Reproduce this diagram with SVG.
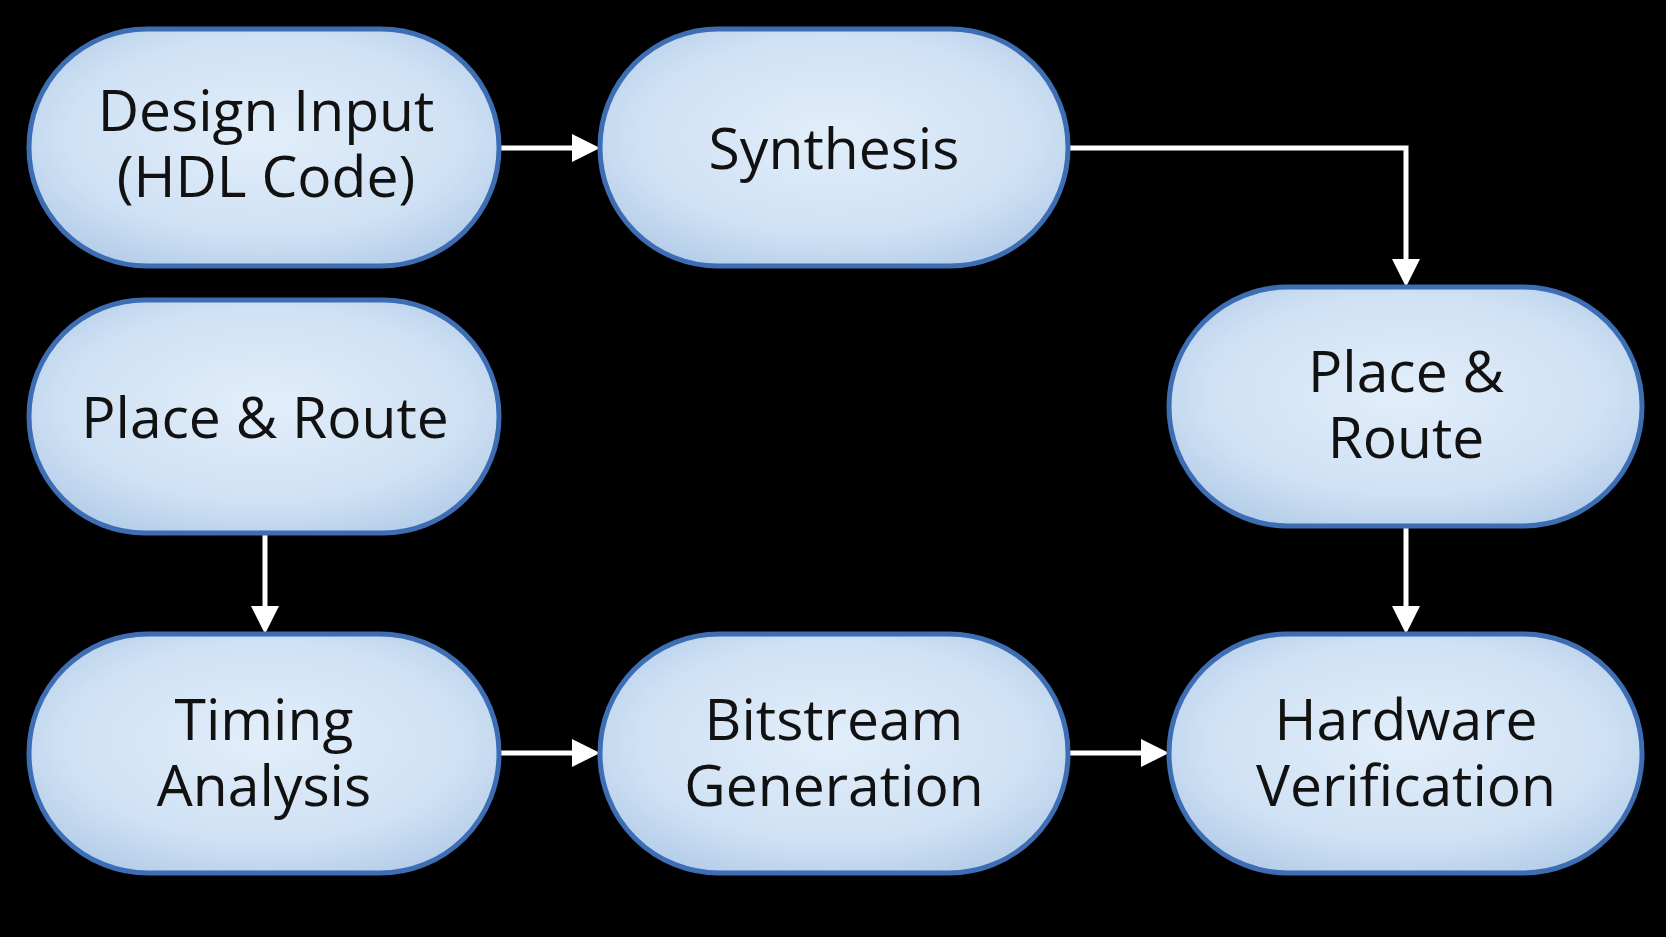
<svg xmlns="http://www.w3.org/2000/svg" width="1666" height="937" viewBox="0 0 1666 937">
<defs>
<radialGradient id="g" cx="50%" cy="45%" r="60%"><stop offset="0" stop-color="#e2eefa"/><stop offset="0.7" stop-color="#cfe1f4"/><stop offset="1" stop-color="#b7cfea"/></radialGradient>
</defs>
<style>
.n{fill:url(#g);stroke:#3d6db3;stroke-width:5}
.t{font-family:"Open Sans","Noto Sans",sans-serif;font-size:57px;fill:#111;text-anchor:middle}
.c{stroke:#fff;stroke-width:5;fill:none}
.h{fill:#fff}
</style>
<rect width="1666" height="937" fill="#000"/>
<g id="connectors">
<path class="c" d="M499,148 H572"/><path class="h" d="M572,134 L600,148 L572,162Z"/>
<path class="c" d="M1068,148 H1406 V259"/><path class="h" d="M1392,259 L1406,287 L1420,259Z"/>
<path class="c" d="M265,533 V606"/><path class="h" d="M251,606 L265,634 L279,606Z"/>
<path class="c" d="M1406,526 V606"/><path class="h" d="M1392,606 L1406,634 L1420,606Z"/>
<path class="c" d="M499,753 H572"/><path class="h" d="M572,739 L600,753 L572,767Z"/>
<path class="c" d="M1068,753 H1141"/><path class="h" d="M1141,739 L1169,753 L1141,767Z"/>
</g>
<g id="n1"><rect class="n" x="29" y="29" width="470" height="237" rx="118"/><text class="t" x="266" y="131">Design Input</text><text class="t" x="266" y="197">(HDL Code)</text></g>
<g id="n2"><rect class="n" x="600" y="29" width="468" height="237" rx="118"/><text class="t" x="834" y="169">Synthesis</text></g>
<g id="n3"><rect class="n" x="29" y="300" width="470" height="233" rx="116"/><text class="t" x="265" y="438">Place &amp; Route</text></g>
<g id="n4"><rect class="n" x="1169" y="287" width="473" height="239" rx="119"/><text class="t" x="1406" y="392">Place &amp;</text><text class="t" x="1406" y="458">Route</text></g>
<g id="n5"><rect class="n" x="29" y="634" width="470" height="239" rx="119"/><text class="t" x="264" y="740">Timing</text><text class="t" x="264" y="806">Analysis</text></g>
<g id="n6"><rect class="n" x="600" y="634" width="468" height="239" rx="119"/><text class="t" x="834" y="740">Bitstream</text><text class="t" x="834" y="806">Generation</text></g>
<g id="n7"><rect class="n" x="1169" y="634" width="473" height="239" rx="119"/><text class="t" x="1406" y="740">Hardware</text><text class="t" x="1406" y="806">Verification</text></g>
</svg>
